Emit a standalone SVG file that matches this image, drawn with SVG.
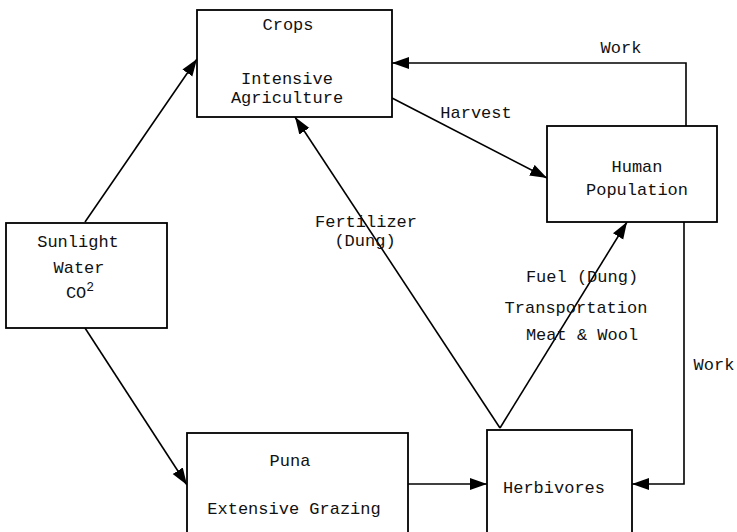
<svg xmlns="http://www.w3.org/2000/svg" width="737" height="532" viewBox="0 0 737 532">
<style>
.box{fill:#fff;stroke:#000;stroke-width:1.8}
.t{font-family:"Liberation Mono","Courier New",monospace;font-size:17px;fill:#111;text-anchor:middle}
.c{fill:none;stroke:#000;stroke-width:1.6}
</style>
<defs>
<marker id="ah" markerUnits="userSpaceOnUse" markerWidth="18" markerHeight="14" refX="17" refY="6" orient="auto">
<path d="M0,0 L17,6 L0,12 z" fill="#000"/>
</marker>
</defs>
<rect width="737" height="532" fill="#fff"/>
<g id="connectors">
<path class="c" d="M85,222 L197,59" marker-end="url(#ah)"/>
<path class="c" d="M85,328 L187,485" marker-end="url(#ah)"/>
<path class="c" d="M392,98 L547,178" marker-end="url(#ah)"/>
<path class="c" d="M686,126 L686,63 L392,63" marker-end="url(#ah)"/>
<path class="c" d="M500,428 L295,117" marker-end="url(#ah)"/>
<path class="c" d="M500,428 L627,222" marker-end="url(#ah)"/>
<path class="c" d="M408,484 L487,484" marker-end="url(#ah)"/>
<path class="c" d="M684,222 L684,484 L632,484" marker-end="url(#ah)"/>
<text class="t" x="476" y="118">Harvest</text>
<text class="t" x="621" y="53">Work</text>
<text class="t" x="366" y="227">Fertilizer</text>
<text class="t" x="365" y="246">(Dung)</text>
<text class="t" x="582" y="282">Fuel (Dung)</text>
<text class="t" x="576" y="313">Transportation</text>
<text class="t" x="582" y="340">Meat &amp; Wool</text>
<text class="t" x="714" y="370">Work</text>
</g>
<g id="crops">
<rect class="box" x="197" y="10" width="195" height="107"/>
<text class="t" x="288" y="30">Crops</text>
<text class="t" x="287" y="84">Intensive</text>
<text class="t" x="287" y="103">Agriculture</text>
</g>
<g id="human">
<rect class="box" x="547" y="126" width="170" height="96"/>
<text class="t" x="637" y="172">Human</text>
<text class="t" x="637" y="195">Population</text>
</g>
<g id="sunlight">
<rect class="box" x="6" y="223" width="161" height="105"/>
<text class="t" x="78" y="247">Sunlight</text>
<text class="t" x="79" y="273">Water</text>
<text class="t" x="80" y="298">CO<tspan font-size="13" dy="-7">2</tspan></text>
</g>
<g id="puna">
<rect class="box" x="187" y="433" width="221" height="110"/>
<text class="t" x="290" y="466">Puna</text>
<text class="t" x="294" y="514">Extensive Grazing</text>
</g>
<g id="herbivores">
<rect class="box" x="487" y="430" width="145" height="113"/>
<text class="t" x="554" y="493">Herbivores</text>
</g>
</svg>
